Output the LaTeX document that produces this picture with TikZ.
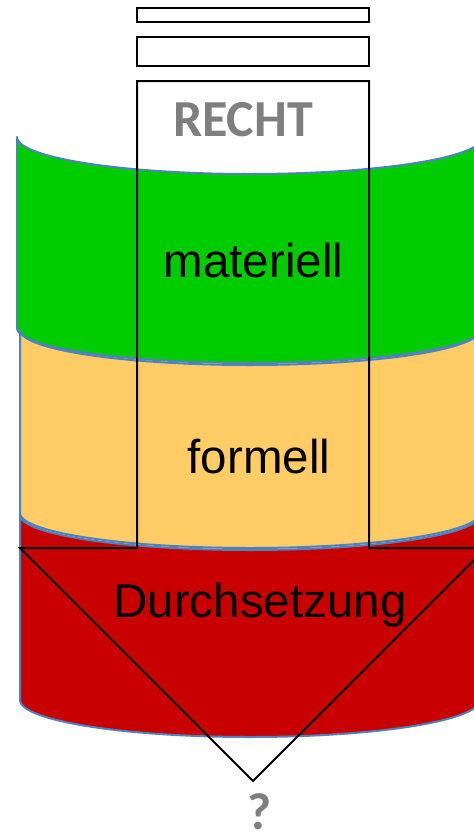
\documentclass[tikz,border=0pt]{standalone}
\usepackage{fontspec}
\setmainfont{Liberation Sans}
\newfontfamily\calibri{Carlito}
\definecolor{cgreen}{RGB}{0,204,0}
\definecolor{cyellow}{RGB}{255,204,102}
\definecolor{cred}{RGB}{200,0,0}
\definecolor{cblue}{RGB}{79,129,189}
\definecolor{cgray}{RGB}{127,127,127}
\begin{document}
\begin{tikzpicture}[x=1pt,y=-1pt,
  seg/.style={draw=cblue,line width=2pt,line join=round},
  box/.style={draw=black,line width=2pt},
  lbl/.style={anchor=base,inner sep=0pt,font=\fontsize{47.5}{56}\selectfont},
  glbl/.style={anchor=base,inner sep=0pt,text=cgray,font=\calibri\bfseries\fontsize{52}{62}\selectfont}]
\useasboundingbox (0,0) rectangle (474,836);
\clip (0,0) rectangle (474,836);
% green segment
\path[seg,fill=cgreen] (17,137) -- plot[domain=180:360,samples=80,smooth] ({250+233*cos(\x)},{137-37*sin(\x)})
  -- (483,328) -- plot[domain=360:180,samples=80,smooth] ({250+233*cos(\x)},{328-35*sin(\x)}) -- cycle;
% yellow segment
\path[seg,fill=cyellow] (20,330) -- plot[domain=180:360,samples=80,smooth] ({250+230*cos(\x)},{330-35*sin(\x)})
  -- (480,513) -- plot[domain=360:180,samples=80,smooth] ({250+230*cos(\x)},{513-35*sin(\x)}) -- cycle;
% red segment
\path[seg,fill=cred] (20,515) -- plot[domain=180:360,samples=80,smooth] ({250+230*cos(\x)},{515-35*sin(\x)})
  -- (480,700) -- plot[domain=360:180,samples=80,smooth] ({250+230*cos(\x)},{700-37*sin(\x)}) -- cycle;
% top boxes
\draw[box] (137,8) rectangle (369,22);
\draw[box] (137,37) rectangle (369,66);
% arrow outline
\draw[box,line join=miter] (137,81) -- (369,81) -- (369,548) -- (486,548) -- (253,781) -- (20,548) -- (137,548) -- cycle;
% labels
\node[glbl] (recht) at (243,136) {RECHT};
\node[lbl] (mat) at (253.5,277) {materiell};
\node[lbl] (form) at (259,473) {formell};
\node[lbl] (durch) at (260,617) {Durchsetzung};
\node[glbl,text depth=0pt] (q) at (259.5,829) {?};
\end{tikzpicture}
\end{document}
